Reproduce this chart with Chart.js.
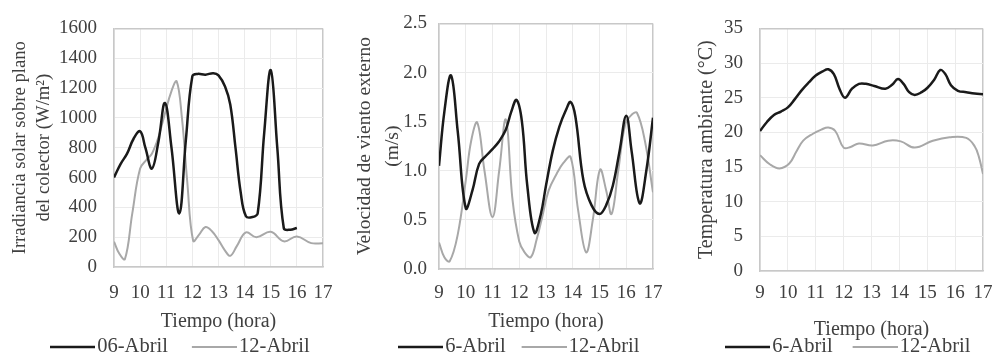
<!DOCTYPE html>
<html>
<head>
<meta charset="utf-8">
<style>
  html, body { margin: 0; padding: 0; background: #fff; overflow: hidden; width: 994px; height: 358px; position: relative; }
  canvas { position: absolute; top: 0; }
</style>
</head>
<body>
<canvas id="irrChart" width="350" height="370" style="left:0px"></canvas>
<canvas id="windChart" width="340" height="370" style="left:335px"></canvas>
<canvas id="tempChart" width="345" height="370" style="left:665px"></canvas>

<script src="https://cdn.jsdelivr.net/npm/chart.js"></script>
<script>
    // x ticks shared by the three panels
    const hourTicks = [9, 10, 11, 12, 13, 14, 15, 16, 17];

    // panel 1: irradiancia (W/m2)
    const irrTicks = [0, 200, 400, 600, 800, 1000, 1200, 1400, 1600];
    const irrHours06 = [9.0, 9.25, 9.5, 9.75, 10.0, 10.2, 10.45, 10.7, 10.95, 11.2, 11.5, 11.75, 12.0, 12.2, 12.5, 12.8, 13.0, 13.25, 13.45, 13.65, 13.85, 14.05, 14.3, 14.5, 14.75, 15.0, 15.25, 15.5, 15.75, 16.0];
    const irr06 = [600, 690, 760, 860, 910, 800, 660, 840, 1100, 800, 360, 850, 1280, 1295, 1290, 1300, 1285, 1210, 1090, 800, 500, 340, 335, 360, 900, 1320, 800, 260, 250, 262];
    const irrHours12 = [9.0, 9.2, 9.42, 9.7, 10.0, 10.25, 10.45, 10.7, 10.95, 11.2, 11.4, 11.6, 11.8, 12.03, 12.25, 12.5, 12.75, 13.0, 13.25, 13.45, 13.7, 14.05, 14.45, 15.0, 15.5, 16.0, 16.55, 17.0];
    const irr12 = [170, 90, 54, 360, 660, 720, 760, 870, 1030, 1180, 1245, 1000, 580, 175, 215, 268, 240, 180, 110, 75, 140, 232, 200, 236, 172, 205, 160, 160];

    // panel 2: velocidad de viento (m/s)
    const windTicks = [0, 0.5, 1.0, 1.5, 2.0, 2.5];
    const windHours06 = [9.0, 9.2, 9.45, 9.7, 10.0, 10.25, 10.5, 10.75, 11.0, 11.25, 11.5, 11.7, 11.9, 12.1, 12.3, 12.57, 12.8, 13.0, 13.25, 13.5, 13.75, 13.92, 14.1, 14.4, 14.7, 15.0, 15.25, 15.5, 15.75, 16.0, 16.2, 16.5, 16.75, 17.0];
    const wind06 = [1.05, 1.6, 1.97, 1.4, 0.62, 0.8, 1.07, 1.15, 1.22, 1.3, 1.42, 1.6, 1.72, 1.5, 0.85, 0.37, 0.55, 0.85, 1.2, 1.45, 1.62, 1.70, 1.55, 0.9, 0.65, 0.56, 0.65, 0.85, 1.2, 1.56, 1.2, 0.67, 1.0, 1.54];
    const windHours12 = [9.0, 9.2, 9.4, 9.7, 10.0, 10.2, 10.43, 10.7, 11.0, 11.25, 11.5, 11.75, 12.0, 12.2, 12.43, 12.65, 12.85, 13.1, 13.4, 13.65, 13.92, 14.2, 14.5, 14.75, 15.02, 15.25, 15.45, 15.7, 15.96, 16.2, 16.4, 16.7, 17.0];
    const wind12 = [0.27, 0.12, 0.08, 0.35, 0.9, 1.3, 1.49, 1.0, 0.53, 1.0, 1.52, 0.7, 0.28, 0.17, 0.12, 0.3, 0.52, 0.8, 0.97, 1.08, 1.14, 0.6, 0.17, 0.5, 1.01, 0.8, 0.56, 1.0, 1.47, 1.57, 1.59, 1.3, 0.78];

    // panel 3: temperatura ambiente (°C)
    const tempTicks = [0, 5, 10, 15, 20, 25, 30, 35];
    const tempHours06 = [9.0, 9.25, 9.5, 9.75, 10.0, 10.25, 10.5, 10.75, 11.0, 11.25, 11.45, 11.65, 11.85, 12.05, 12.3, 12.55, 12.8, 13.1, 13.5, 13.75, 13.95, 14.15, 14.35, 14.55, 14.8, 15.0, 15.25, 15.47, 15.65, 15.85, 16.1, 16.4, 16.7, 17.0];
    const temp06 = [20.2, 21.5, 22.5, 23.0, 23.6, 24.8, 26.1, 27.2, 28.2, 28.8, 29.1, 28.4, 26.3, 25.0, 26.3, 27.0, 27.0, 26.7, 26.3, 26.9, 27.7, 27.0, 25.8, 25.4, 25.8, 26.4, 27.6, 29.0, 28.4, 26.8, 26.0, 25.8, 25.6, 25.5];
    const tempHours12 = [9.0, 9.35, 9.7, 10.05, 10.3, 10.55, 10.9, 11.2, 11.45, 11.7, 12.0, 12.25, 12.55, 13.05, 13.6, 14.05, 14.55, 15.2, 15.8, 16.4, 16.7, 16.85, 17.0];
    const temp12 = [16.7, 15.4, 14.8, 15.5, 17.2, 18.8, 19.8, 20.4, 20.7, 20.2, 17.8, 17.9, 18.4, 18.1, 18.8, 18.7, 17.8, 18.8, 19.3, 19.2, 18.0, 16.5, 14.0];

    const SERIF = "'Liberation Serif', 'Times New Roman', serif";
    const TEXT = '#404040';
    const GRID = '#ebebeb';
    const EDGE = '#c8c8c8';
    const DARK = '#1a1a1a';
    const LIGHT = '#a8a8a8';

    const LEG_FONT = 20.5;
    const LEG_BOX = 37;   // legend box width, text starts LEG_BOX + LEG_FONT/2 after it
    const LEG_LINE = 45;  // drawn sample line length

    // legend sample: a canvas used as point style, so the line can run up to the text
    function legendLine(color, width) {
        const c = document.createElement('canvas');
        c.width = 2 * (LEG_LINE - LEG_BOX / 2);
        c.height = 6;
        const g = c.getContext('2d');
        g.strokeStyle = color;
        g.lineWidth = width;
        g.beginPath();
        g.moveTo(c.width - LEG_LINE, 3);
        g.lineTo(c.width, 3);
        g.stroke();
        return c;
    }

    function lineSet(label, xs, ys, color, width) {
        return {
            label: label,
            data: xs.map((x, i) => ({ x: x, y: ys[i] })),
            borderColor: color,
            backgroundColor: color,
            borderWidth: width,
            pointRadius: 0,
            pointStyle: legendLine(color, width),
            tension: 0.4,
            fill: false
        };
    }

    function edgeAware(max, edge, inner) {
        return c => (c.tick && c.tick.value === max ? edge : inner);
    }

    function renderPanel(canvasId, o) {
        const yMax = o.yTicks[o.yTicks.length - 1];
        return new Chart(document.getElementById(canvasId), {
            type: 'line',
            data: { datasets: o.datasets },
            options: {
                responsive: false,
                animation: false,
                layout: { padding: o.pad },
                plugins: {
                    legend: {
                        position: 'bottom',
                        align: 'start',
                        labels: {
                            font: { family: SERIF, size: LEG_FONT },
                            color: TEXT,
                            usePointStyle: true,
                            pointStyleWidth: LEG_BOX,
                            padding: o.legendPad
                        }
                    },
                    tooltip: { enabled: false }
                },
                scales: {
                    x: {
                        type: 'linear',
                        min: 9,
                        max: 17,
                        afterBuildTicks: s => { s.ticks = hourTicks.map(v => ({ value: v })); },
                        afterFit: s => { s.height = o.xHeight; },
                        ticks: {
                            font: { family: SERIF, size: 19 },
                            color: TEXT,
                            padding: o.xTickPad,
                            autoSkip: false,
                            maxRotation: 0
                        },
                        grid: {
                            drawTicks: false,
                            color: edgeAware(17, EDGE, GRID),
                            lineWidth: edgeAware(17, 1.5, 1)
                        },
                        border: { color: EDGE, width: 1.5 },
                        title: {
                            display: true,
                            text: 'Tiempo (hora)',
                            font: { family: SERIF, size: 20 },
                            color: TEXT,
                            padding: { top: 0, bottom: o.xTitlePad }
                        }
                    },
                    y: {
                        min: 0,
                        max: yMax,
                        afterBuildTicks: s => { s.ticks = o.yTicks.map(v => ({ value: v })); },
                        afterFit: s => { s.width = o.yWidth; },
                        ticks: {
                            font: { family: SERIF, size: 19 },
                            color: TEXT,
                            padding: o.yTickPad,
                            autoSkip: false,
                            callback: o.yFormat || (v => v)
                        },
                        grid: {
                            drawTicks: false,
                            color: edgeAware(yMax, EDGE, GRID),
                            lineWidth: edgeAware(yMax, 1.5, 1)
                        },
                        border: { color: EDGE, width: 1.5 },
                        title: {
                            display: true,
                            text: o.yTitle,
                            font: { family: SERIF, size: o.yTitleSize, lineHeight: o.yTitleLine / o.yTitleSize },
                            color: TEXT,
                            padding: { top: o.yTitlePad, bottom: 0 }
                        }
                    },
                    // empty right-hand axis: keeps the plot narrow while the legend gets the full width
                    gap: {
                        axis: 'y',
                        position: 'right',
                        afterFit: s => { s.width = o.rightGap; },
                        ticks: { display: false },
                        grid: { display: false },
                        border: { display: false }
                    }
                }
            }
        });
    }

    document.addEventListener("DOMContentLoaded", function () {
        renderPanel('irrChart', {
            datasets: [
                lineSet('06-Abril', irrHours06, irr06, DARK, 2.5),
                lineSet('12-Abril', irrHours12, irr12, LIGHT, 2)
            ],
            yTicks: irrTicks,
            yTitle: ['Irradiancia solar sobre plano', 'del colector (W/m\u00B2)'],
            yTitleSize: 18.7,
            yTitleLine: 24,
            yTitlePad: -18,
            pad: { left: 26, right: 0, top: 18, bottom: 2.75 },
            rightGap: 27,
            legendPad: 24,
            yWidth: 88,
            yTickPad: 17,
            xHeight: 45.75,
            xTickPad: 14.5,
            xTitlePad: -21.25
        });

        renderPanel('windChart', {
            datasets: [
                lineSet('6-Abril', windHours06, wind06, DARK, 2.5),
                lineSet('12-Abril', windHours12, wind12, LIGHT, 2)
            ],
            yTicks: windTicks,
            yTitle: ['Velocidad de viento externo', '(m/s)'],
            yTitleSize: 19.5,
            yTitleLine: 28,
            yTitlePad: -31,
            yFormat: v => Number(v).toFixed(1),
            pad: { left: 47, right: 0, top: 19.5, bottom: 2.75 },
            rightGap: 17,
            legendPad: 16,
            yWidth: 57,
            yTickPad: 12,
            xHeight: 51.75,
            xTickPad: 12.5,
            xTitlePad: -13.25
        });

        renderPanel('tempChart', {
            datasets: [
                lineSet('6-Abril', tempHours06, temp06, DARK, 2.5),
                lineSet('12-Abril', tempHours12, temp12, LIGHT, 2)
            ],
            yTicks: tempTicks,
            yTitle: 'Temperatura ambiente (\u00B0C)',
            yTitleSize: 20,
            yTitleLine: 24,
            yTitlePad: -10,
            pad: { left: 40, right: 0, top: 18.3, bottom: 2.75 },
            rightGap: 27,
            legendPad: 20,
            yWidth: 55,
            yTickPad: 17,
            xHeight: 45.75,
            xTickPad: 10.5,
            xTitlePad: -25.25
        });
    });
</script>
</body>
</html>
